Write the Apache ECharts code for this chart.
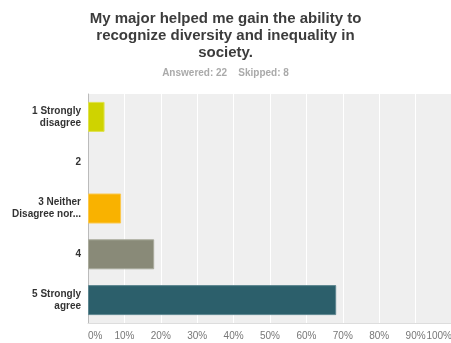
<!DOCTYPE html>
<html>
<head>
<meta charset="utf-8">
<style>
  html, body { margin: 0; padding: 0; background: #fff; }
  #chart { width: 451px; height: 343px; }
</style>
<script src="https://cdn.jsdelivr.net/npm/echarts@6/dist/echarts.min.js"></script>
</head>
<body>
<div id="chart"></div>
<script>
// Survey question and response summary
const questionLines = [
  'My major helped me gain the ability to',
  'recognize diversity and inequality in',
  'society.'
];
const responseSummary = 'Answered: 22    Skipped: 8';

// Answer choices (top to bottom) and share of respondents, in percent
const categories = ['1 Strongly\ndisagree', '2', '3 Neither\nDisagree nor...', '4', '5 Strongly\nagree'];
const percents = [4.55, 0, 9.09, 18.18, 68.18];
const barColors = ['#cfd300', '#e0e0e0', '#f9b200', '#898a78', '#2c5f6b'];
const borderColors = ['#dfe24d', '#e0e0e0', '#fbc84d', '#a9aa9c', '#5d8690'];

// Value axis ticks
const tickValues = [0, 10, 20, 30, 40, 50, 60, 70, 80, 90, 100];

const chart = echarts.init(document.getElementById('chart'), null, { renderer: 'canvas' });

chart.setOption({
  animation: false,
  title: {
    text: questionLines.join('\n'),
    subtext: responseSummary,
    left: 'center',
    top: 5,
    itemGap: 7,
    textStyle: {
      fontFamily: 'Liberation Sans, Arial, sans-serif',
      fontWeight: 'bold',
      fontSize: 15,
      lineHeight: 17,
      color: '#3c3c3c'
    },
    subtextStyle: {
      fontFamily: 'Liberation Sans, Arial, sans-serif',
      fontWeight: 'bold',
      fontSize: 10,
      color: '#aaaaaa'
    }
  },
  grid: {
    left: 88,
    right: -1,
    top: 94,
    bottom: 20,
    show: true,
    backgroundColor: '#efefef',
    borderWidth: 0,
    containLabel: false,
    outerBoundsMode: 'none'
  },
  xAxis: {
    type: 'value',
    min: tickValues[0],
    max: tickValues[tickValues.length - 1],
    interval: tickValues[1] - tickValues[0],
    axisLine: { show: true, lineStyle: { color: '#dddddd', width: 1 } },
    axisTick: { show: false },
    splitLine: { show: true, lineStyle: { color: '#ffffff', width: 1 } },
    axisLabel: {
      formatter: '{value}%',
      color: '#777777',
      fontFamily: 'Liberation Sans, Arial, sans-serif',
      fontSize: 10,
      margin: 8,
      alignMinLabel: 'left',
      alignMaxLabel: 'right'
    }
  },
  yAxis: {
    type: 'category',
    data: categories,
    inverse: true,
    axisLine: { show: true, lineStyle: { color: '#bbbbbb', width: 1 } },
    axisTick: { show: false },
    splitLine: { show: false },
    axisLabel: {
      color: '#333333',
      fontFamily: 'Liberation Sans, Arial, sans-serif',
      fontWeight: 'bold',
      fontSize: 10,
      lineHeight: 12,
      margin: 7,
      align: 'right'
    }
  },
  series: [{
    type: 'bar',
    barWidth: 30,
    data: percents.map((v, i) => ({
      value: v,
      itemStyle: {
        color: barColors[i],
        borderColor: borderColors[i],
        borderWidth: v > 0 ? 1 : 0
      }
    })),
    label: { show: false }
  }]
});
</script>
</body>
</html>
